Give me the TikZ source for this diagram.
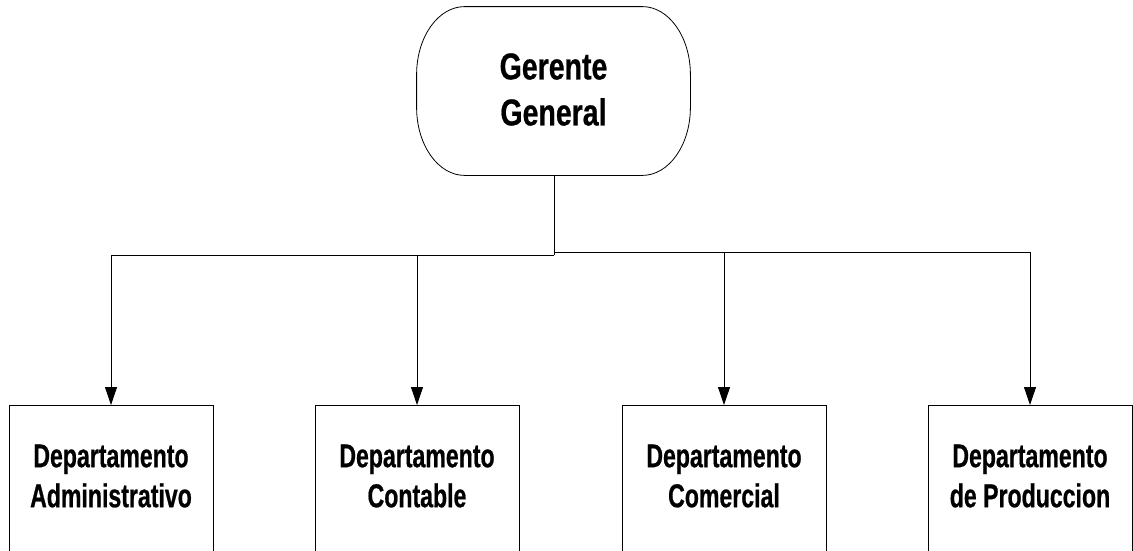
\documentclass[tikz,border=0pt]{standalone}
\usepackage{fontspec}
\setmainfont{Liberation Sans}
\newfontfamily\deptfont{Liberation Sans}[FakeStretch=0.70,FakeBold=0.6]
\newfontfamily\headfont{Liberation Sans}[FakeStretch=0.76,FakeBold=0.6]
\usetikzlibrary{arrows.meta}
\begin{document}
\begin{tikzpicture}[x=1pt,y=-1pt,
  line width=0.8pt,
  dept/.style={draw, rectangle, minimum width=204pt, minimum height=300pt,
               anchor=north, inner sep=0pt},
  depttext/.style={align=center, inner sep=0pt,
                   font=\deptfont\bfseries\fontsize{33}{40}\selectfont},
  arr/.style={-{Triangle[length=18pt,width=12pt]}}]
\useasboundingbox (0,0) rectangle (1133,550);
\clip (0,0) rectangle (1133,550);
\fill[white] (0,0) rectangle (1133,550);

% top node: Gerente General, a rounded box with elliptic corners
\node[minimum width=273pt, minimum height=168pt, inner sep=0pt] (gg) at (553.5,91) {};
\node[align=center, inner sep=0pt, font=\headfont\bfseries\fontsize{37.5}{46}\selectfont]
  (ggtext) at (553.5,89.5) {Gerente\\General};
\draw ([xshift=48pt]gg.north west) -- ([xshift=-48pt]gg.north east)
  arc[start angle=90, end angle=0, x radius=48pt, y radius=68pt]
  -- ([yshift=68pt]gg.south east)
  arc[start angle=0, end angle=-90, x radius=48pt, y radius=68pt]
  -- ([xshift=48pt]gg.south west)
  arc[start angle=270, end angle=180, x radius=48pt, y radius=68pt]
  -- ([yshift=-68pt]gg.north west)
  arc[start angle=180, end angle=90, x radius=48pt, y radius=68pt];

% department boxes
\node[dept] (d1) at (111,405) {};
\node[dept] (d2) at (417,405) {};
\node[dept] (d3) at (724,405) {};
\node[dept] (d4) at (1030,405) {};
\node[depttext] (t1) at (111,476) {Departamento\\Administrativo};
\node[depttext] (t2) at (417,476) {Departamento\\Contable};
\node[depttext] (t3) at (724,476) {Departamento\\Comercial};
\node[depttext] (t4) at (1030,476) {Departamento\\de Produccion};

% branch lines
\coordinate (jl) at (554,255);
\coordinate (jr) at (554,252.5);
\draw (gg.south -| jl) -- (jl);
\draw[arr] (jl) -| (d1.north);
\draw[arr] (jl) -| (d2.north);
\draw[arr] (jr) -| (d3.north);
\draw[arr] (jr) -| (d4.north);
\end{tikzpicture}
\end{document}
